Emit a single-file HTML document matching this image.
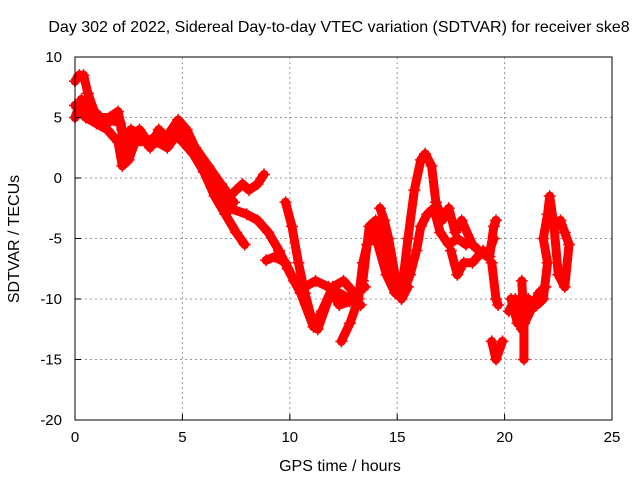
<!DOCTYPE html>
<html><head><meta charset="utf-8"><style>
html,body{margin:0;padding:0;background:#fff;}
svg text{font-family:"Liberation Sans",sans-serif;font-size:15px;fill:#000;}
svg text.big{font-size:16px;}
</style></head><body>
<svg id="chart" width="640" height="480" viewBox="0 0 640 480" xmlns="http://www.w3.org/2000/svg">
<rect width="640" height="480" fill="#fff"/>
<g id="grid"></g>
<g id="series"></g>
<rect x="75" y="57" width="537" height="363" fill="none" stroke="#000" stroke-width="1"/>
<g id="axes"></g>
<text class="big" x="339" y="32" text-anchor="middle">Day 302 of 2022, Sidereal Day-to-day VTEC variation (SDTVAR) for receiver ske8</text>
<text class="big" x="340" y="471" text-anchor="middle">GPS time / hours</text>
<text class="big" x="0" y="0" transform="translate(19,239) rotate(-90)" text-anchor="middle">SDTVAR / TECUs</text>
</svg>
<script>
const xTicks = [0,5,10,15,20,25];
const yTicks = [10,5,0,-5,-10,-15,-20];
const track1 = [[0,8],[0.2,8.5],[0.4,8.5],[0.6,7],[0.9,5.5],[1.2,5],[1.6,5],[2,5.5],[2.2,4],[2.5,3],[3,4],[3.4,3],[3.8,3.5],[4.3,3.5],[4.8,4.8],[5.2,4],[5.6,2.5],[6.2,1],[6.8,-0.5],[7.2,-1.5],[7.5,-1],[7.8,-0.5],[8.1,-1],[8.5,-0.5],[8.8,0.3]];
const track2 = [[0,6],[0.5,5],[1,4.5],[1.5,4],[2,3],[2.2,1],[2.5,1.5],[2.8,3],[3.3,3],[3.8,3],[4.3,2.5],[4.7,3.5],[5,3],[5.5,2],[6,0.5],[6.5,-1.5],[7,-3],[7.5,-4.5],[7.9,-5.5]];
const track2b = [[0,5],[0.3,6.5],[0.6,5.5],[1,5],[1.4,4.5],[1.8,4.8],[2.1,4.5],[2.4,2],[2.6,4],[3.1,3.5],[3.5,2.5],[3.9,4],[4.4,3],[4.9,4],[5.4,3],[5.9,1.5],[6.4,0],[6.9,-1],[7.4,-2]];
const track3 = [[4.8,4.5],[5.3,3],[6,1],[6.5,-1],[7.2,-2.5],[8,-3],[8.5,-3.5],[9,-4.5],[9.5,-6],[9.9,-7.5],[10.5,-9.5],[11.1,-12.3],[11.5,-11],[12,-9],[12.5,-8.5],[13,-9.5],[13.5,-9]];
const track4 = [[9.8,-2],[10.1,-4],[10.4,-7],[10.7,-9.5],[11,-11.5],[11.3,-12.5],[11.8,-10],[12.3,-9.5],[12.8,-10],[13.3,-10.5]];
const track5 = [[8.9,-6.8],[9.3,-6.5],[9.8,-7],[10.2,-8.5],[10.7,-9],[11.2,-8.5],[11.8,-9],[12.3,-10.5],[12.8,-10.2],[13.2,-9.5]];
const track6 = [[12.4,-13.5],[12.8,-12],[13.2,-10],[13.4,-7],[13.6,-5.5],[13.8,-4.5],[14.1,-5.5],[14.5,-8],[14.9,-9.5],[15.2,-9.8],[15.6,-8],[15.9,-6],[16.1,-4],[16.4,-3],[16.7,-2.5],[17,-4.5],[17.4,-5.5],[17.8,-5],[18.2,-5.5]];
const track7 = [[13.4,-8.5],[13.7,-4],[14,-3.5],[14.3,-5],[14.7,-7],[15,-8.5],[15.3,-8],[15.5,-5],[15.8,-1],[16.1,1.5],[16.3,2],[16.6,1],[16.8,-2],[17.1,-3.5],[17.4,-2.5],[17.7,-4.5],[18,-3.5],[18.5,-5.5],[18.8,-6],[19.2,-6.5],[19.5,-5]];
const track8 = [[14.2,-2.5],[14.4,-3.5],[14.6,-5],[14.9,-8],[15.2,-10],[15.5,-9]];
const track9 = [[17.5,-6],[17.8,-8],[18.1,-7],[18.5,-7],[19,-6],[19.3,-6.5],[19.5,-4],[19.6,-3.5]];
const track10 = [[19.4,-7],[19.6,-10],[19.7,-10.5]];
const track11 = [[19.4,-13.5],[19.6,-15],[19.9,-13.5]];
const track12 = [[20.3,-10],[20.6,-12],[20.9,-11.5],[21.1,-10],[21.5,-10.5],[21.8,-10],[22,-7],[21.8,-5],[22,-3],[22.1,-1.5],[22.3,-4],[22.5,-8],[22.8,-9],[23,-5.5],[22.8,-4.5],[22.6,-3.5]];
const track13 = [[20.8,-8.5],[20.9,-12],[20.9,-15]];
const track14 = [[20.2,-11],[20.5,-10],[20.8,-12.5],[21.2,-11],[21.6,-9.5],[21.9,-9]];
const tracks = [track1,track2,track2b,track3,track4,track5,track6,track7,track8,track9,track10,track11,track12,track13,track14];

const NS="http://www.w3.org/2000/svg";
const X0=75,X1=612,Y0=420,Y1=57;
function xs(v){return X0+(v-0)/(25-0)*(X1-X0);}
function ys(v){return Y0-(v+20)/(30)*(Y0-Y1);}
const grid=document.getElementById('grid'),axes=document.getElementById('axes'),ser=document.getElementById('series');
function mk(tag,attrs,parent){const e=document.createElementNS(NS,tag);for(const k in attrs)e.setAttribute(k,attrs[k]);parent.appendChild(e);return e;}
xTicks.forEach(t=>{
  const x=xs(t);
  if(t>0&&t<25){const g=mk('line',{x1:x,x2:x,y1:Y1,y2:Y0,stroke:'#999','stroke-dasharray':'2,3'},grid);
  
  }
  const tk=mk('line',{x1:x,x2:x,y1:Y0,y2:Y0-6,stroke:'#000'},axes);
  
  
  const l=mk('text',{x:x,y:Y0+22,'text-anchor':'middle'},axes);l.textContent=t;
  
  
});
yTicks.forEach(t=>{
  const y=ys(t);
  if(t>-20&&t<10){const g=mk('line',{x1:X0,x2:X1,y1:y,y2:y,stroke:'#999','stroke-dasharray':'2,3'},grid);
  
  }
  const tk=mk('line',{x1:X0,x2:X0+6,y1:y,y2:y,stroke:'#000'},axes);
  
  
  const l=mk('text',{x:X0-13,y:y+5,'text-anchor':'end'},axes);l.textContent=t;
  
  
});
tracks.forEach((tr,i)=>{
  const pts=tr.map(p=>xs(p[0])+','+ys(p[1])).join(' ');
  const pl=mk('polyline',{points:pts,fill:'none',stroke:'#f00','stroke-width':9,'stroke-linejoin':'round','stroke-linecap':'round'},ser);
  
  
  tr.forEach(p=>{
    const x=xs(p[0]),y=ys(p[1]);
    const m=mk('path',{d:`M${x-6},${y}H${x+6}M${x},${y-6}V${y+6}`,stroke:'#f00','stroke-width':1.5},ser);
    
    
  });
});
</script>
</body></html>
